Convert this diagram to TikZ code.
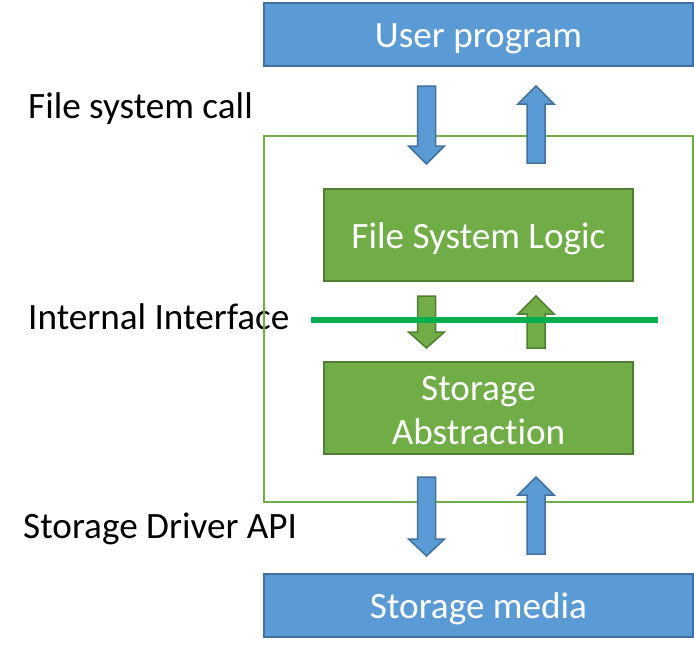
\documentclass[tikz,border=0pt]{standalone}
\usepackage{fontspec}
\setmainfont{Carlito}[Ligatures=NoCommon]
\usepackage{xcolor}
\usepackage{tikz}
\usetikzlibrary{arrows.meta,calc,positioning}

\definecolor{blueface}{HTML}{5B9BD5}
\definecolor{blueedge}{HTML}{41719C}
\definecolor{greenface}{HTML}{70AD47}
\definecolor{greenedge}{HTML}{507E32}
\definecolor{cutline}{HTML}{00B050}

% block arrow: style, x, tail y, head base y, tip y
\newcommand{\fatarrow}[5]{%
  \draw[#1] (#2-9,#3) -- (#2-9,#4) -- (#2-18,#4) -- (#2,#5) -- (#2+18,#4) -- (#2+9,#4) -- (#2+9,#3) -- cycle;}

\begin{document}
\begin{tikzpicture}[x=1pt,y=-1pt,font=\fontsize{37.2}{44}\selectfont,
  bluebox/.style={draw=blueedge,fill=blueface,line width=2pt,text=white,minimum width=429pt,minimum height=63pt,inner sep=0pt,text height=25pt,text depth=0pt},
  greenbox/.style={draw=greenedge,fill=greenface,line width=2pt,text=white,minimum width=309pt,minimum height=92pt,inner sep=0pt,align=center},
  bluearrow/.style={draw=blueedge,fill=blueface,line width=1.5pt,line join=miter},
  greenarrow/.style={draw=greenedge,fill=greenface,line width=1.5pt,line join=miter},
  lbl/.style={anchor=base west,inner sep=0pt}]
\useasboundingbox (0,0) rectangle (694,651);
\node[lbl] (call) at (28,118) {File system call};
\node[lbl] (iface) at (28,329) {Internal Interface};
\node[lbl] (api) at (23,538) {Storage Driver API};
\draw[greenface,line width=1.5pt] (264,136) rectangle (693,502);
\node[bluebox] (user) at (478.5,34.5) {User program};
\node[greenbox,text height=26pt,text depth=0pt] (logic) at (478.5,235) {File System Logic};
\node[greenbox] (abstr) at (478.5,408) {};
\node[white,align=center,inner sep=0pt,yshift=-3pt] (abstrtxt) at (abstr.center) {Storage\\Abstraction};
\node[bluebox] (media) at (478.5,605.5) {Storage media};
% arrows between layers
\fatarrow{bluearrow}{426.5}{86}{146}{164} \fatarrow{bluearrow}{536}{163}{104}{86}
\fatarrow{greenarrow}{426.5}{296}{332}{348} \fatarrow{greenarrow}{536}{348}{314}{296}
\fatarrow{bluearrow}{426.5}{477}{539}{556} \fatarrow{bluearrow}{536}{554}{495}{477}
\draw[cutline,line width=6pt] (311,320) -- (658,320);
\end{tikzpicture}
\end{document}
